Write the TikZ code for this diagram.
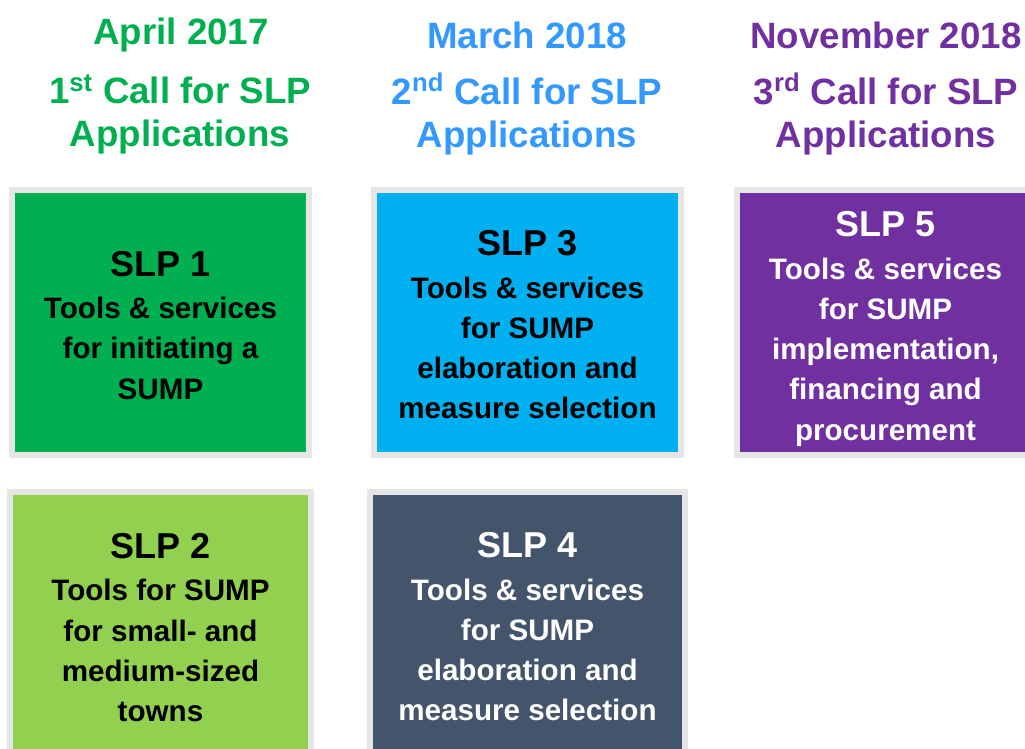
\documentclass[tikz,border=0pt]{standalone}
\usepackage{fontspec}
\setmainfont{Liberation Sans}

\definecolor{slpgreen}{HTML}{00B050}
\definecolor{slplime}{HTML}{92D050}
\definecolor{slpcyan}{HTML}{00B0F0}
\definecolor{slpslate}{HTML}{44546A}
\definecolor{slppurple}{HTML}{7030A0}
\definecolor{callblue}{HTML}{3399FF}
\definecolor{framegray}{HTML}{E7E6E6}

\tikzset{
    header/.style = {
        align=center,
        inner sep=0pt,
        font=\bfseries\fontsize{27.5}{32.25}\selectfont
    },
    slpbox/.style = {
        draw=framegray,
        line width=4.5pt,
        align=center,
        inner sep=0pt,
        minimum height=198.75pt,
        font=\bfseries\fontsize{22.2}{30.2}\selectfont
    }
}
% title line; optional argument pushes the text block down
\newcommand{\slptitle}[2][0pt]{{\fontsize{27}{30}\selectfont\rule{0pt}{\dimexpr19.5pt+#1\relax}#2}\\[1.5pt]}

\begin{document}
\begin{tikzpicture}[x=0.75pt, y=-0.75pt]
    \useasboundingbox (0,0) rectangle (1025,749);
    \clip (0,0) rectangle (1025,749);

    % Draw headers
    \node[header, slpgreen]  (date1) at (181,35)  {April 2017};
    \node[header, slpgreen]  (call1) at (180,114) {1\textsuperscript{st} Call for SLP\\Applications};
    \node[header, callblue]  (date2) at (527,35)  {March 2018};
    \node[header, callblue]  (call2) at (527,114) {2\textsuperscript{nd} Call for SLP\\Applications};
    \node[header, slppurple] (date3) at (886,35)  {November 2018};
    \node[header, slppurple] (call3) at (886,114) {3\textsuperscript{rd} Call for SLP\\Applications};

    % Draw boxes
    \node[slpbox, fill=slpgreen, minimum width=222.75pt] (slp1) at (160.5,322.5)
        {\slptitle[3.75pt]{SLP 1}Tools \& services\\for initiating a\\SUMP};
    \node[slpbox, fill=slplime, minimum width=225.75pt] (slp2) at (160.5,624.5)
        {\slptitle[4pt]{SLP 2}Tools for SUMP\\for small- and\\medium-sized\\towns};
    \node[slpbox, fill=slpcyan, minimum width=230.25pt] (slp3) at (527.5,322.5)
        {\slptitle[3pt]{SLP 3}Tools \& services\\for SUMP\\elaboration and\\measure selection};
    \node[slpbox, fill=slpslate, text=white, minimum width=236.25pt] (slp4) at (527.5,624.5)
        {\slptitle[3pt]{SLP 4}Tools \& services\\for SUMP\\elaboration and\\measure selection};
    \node[slpbox, fill=slppurple, text=white, minimum width=222.75pt] (slp5) at (885.5,322.5)
        {\slptitle[9pt]{SLP 5}Tools \& services\\for SUMP\\implementation,\\financing and\\procurement};
\end{tikzpicture}
\end{document}
